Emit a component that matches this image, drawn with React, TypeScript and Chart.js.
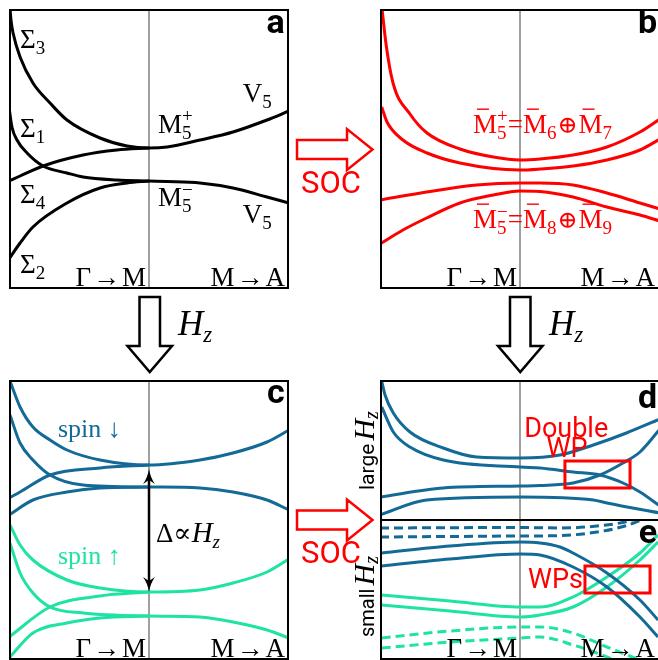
import React, { useEffect, useRef } from 'react';
import { Chart, registerables } from 'chart.js';

Chart.register(...registerables);

const BLACK = '#000000';
const RED = '#ff0000';
const BLUE = '#136a96';
const GREEN = '#1ee3a4';
const SERIF = "'Liberation Serif', 'DejaVu Serif', serif";
const SANS = "Roboto, 'Liberation Sans', sans-serif";

const pathLabels = ['Γ→M', 'M→A'];

// ---------- panel a (black bands, no SOC) ----------
const aSigma3X = [0.007, 0.014, 0.029, 0.079, 0.171, 0.293, 0.414, 0.65, 0.843, 1, 1.129, 1.364, 1.6, 1.843, 2];
const aSigma3Y = [281, 269, 256, 232, 206, 186, 169, 151, 143, 141, 142, 149, 157, 169, 178];
const aSigma1X = [0, 0.021, 0.057, 0.129, 0.243, 0.414, 0.529, 0.771, 1, 1.129, 1.364, 1.6, 1.843, 2];
const aSigma1Y = [182, 162, 149, 136, 123, 116, 112, 109, 108, 107.5, 106, 101, 92, 86];
const aSigma4X = [0, 0.079, 0.243, 0.529, 0.771, 1];
const aSigma4Y = [108, 113, 123, 134, 139, 141];
const aSigma2X = [0, 0.079, 0.171, 0.414, 0.65, 0.843, 1];
const aSigma2Y = [30, 46, 62, 86, 101, 106, 108];

// ---------- panel b (SOC, red) ----------
const b1X = [0.014, 0.043, 0.093, 0.214, 0.336, 0.571, 0.81, 1, 1.143, 1.379, 1.621, 1.857, 2];
const b1Y = [281, 245, 206, 175, 156, 140, 132, 129, 130, 134, 142, 157, 170];
const b2X = [0.012, 0.05, 0.164, 0.336, 0.571, 1, 1.143, 1.379, 1.621, 1.857, 2];
const b2Y = [182, 167, 149, 136, 126, 119, 120, 123, 129, 139, 150];
const b3X = [0, 0.333, 0.69, 1, 1.143, 1.379, 1.621, 1.857, 2];
const b3Y = [89, 97, 104, 106, 106, 104, 96, 86, 80];
const b4X = [0, 0.164, 0.333, 0.571, 0.81, 1, 1.143, 1.379, 1.621, 1.857, 2];
const b4Y = [45, 59, 71, 86, 94, 98, 97.5, 92, 82, 74, 68];

// ---------- panel c (Zeeman split) ----------
const cDn1X = [0.007, 0.079, 0.171, 0.293, 0.414, 0.65, 1, 1.364, 1.6, 1.843, 2];
const cDn1Y = [279, 253, 233, 220, 210, 200, 195, 200, 207, 218, 230];
const cDn2X = [0.007, 0.079, 0.171, 0.293, 0.529, 1, 1.364, 1.6, 1.843, 2];
const cDn2Y = [245, 217, 200, 185, 175, 173, 172, 168, 160, 150];
const cDn3X = [0, 0.079, 0.293, 0.65, 1];
const cDn3Y = [162, 168, 185, 192, 195];
const cDn4X = [0, 0.171, 0.414, 0.65, 1];
const cDn4Y = [145, 160, 168, 172, 173];
const cUp1X = [0.007, 0.079, 0.171, 0.414, 0.65, 1, 1.364, 1.6, 1.843, 2];
const cUp1Y = [135, 115, 100, 80, 72, 68, 70, 77, 88, 101];
const cUp2X = [0.007, 0.079, 0.171, 0.293, 0.529, 1, 1.364, 1.6, 1.843, 2];
const cUp2Y = [117, 87, 67, 53, 47, 44, 43, 38, 30, 22];
const cUp3X = [0, 0.293, 0.65, 1];
const cUp3Y = [23, 53, 64, 68];
const cUp4X = [0, 0.171, 0.414, 0.65, 1];
const cUp4Y = [2, 27, 37, 42, 44];

// ---------- panel d (large Hz) ----------
const d1X = [0.012, 0.036, 0.095, 0.214, 0.452, 0.69, 1.005, 1.286, 1.524, 1.76, 2];
const d1Y = [140, 126, 108, 89, 73, 64, 63, 66, 76, 88, 102];
const d2X = [0.012, 0.095, 0.214, 0.452, 1.005, 1.143, 1.379, 1.571, 1.736, 1.857, 2];
const d2Y = [114, 89, 74, 61, 54, 53, 49, 46, 38, 29, 15];
const d3X = [0, 0.452, 1.005, 1.143, 1.379, 1.571, 1.736, 1.857, 2];
const d3Y = [24, 33, 35, 35.5, 38, 46, 58, 69, 92];
const d4X = [0, 0.333, 1.005, 1.524, 1.621, 2];
const d4Y = [6, 21, 24, 21, 18, 8];

// ---------- panel e (small Hz) ----------
const eDash1X = [0, 1, 1.3, 1.55, 1.75, 1.9];
const eDash1Y = [132, 132.5, 132, 134, 138, 144];
const eDash2X = [0, 1, 1.3, 1.55, 1.75, 1.9];
const eDash2Y = [123, 124, 124.5, 128, 134, 142];
const eBlue1X = [0.012, 0.5, 1.005, 1.143, 1.286, 1.379, 1.621, 1.857, 1.986];
const eBlue1Y = [107, 114, 118, 117, 113, 107, 87, 60, 40];
const eBlue2X = [0.012, 0.5, 1.005, 1.143, 1.379, 1.621, 1.857, 1.986];
const eBlue2Y = [94, 101, 106, 105, 93, 73, 43, 23];
const eGreen1X = [0.012, 0.5, 1.005, 1.143, 1.379, 1.621, 1.857, 1.986];
const eGreen1Y = [65, 59, 53, 53, 63, 83, 107, 125];
const eGreen2X = [0.012, 0.5, 1.005, 1.143, 1.379, 1.621, 1.857, 1.986];
const eGreen2Y = [55, 49, 43, 45, 53, 73, 100, 118];
const eGDash1X = [0.012, 0.5, 1.005, 1.143, 1.379, 1.621, 1.857, 2];
const eGDash1Y = [22, 29, 33, 33, 27, 13, 0, -8];
const eGDash2X = [0.012, 0.5, 1.005, 1.143, 1.379, 1.621, 1.75];
const eGDash2Y = [12, 18, 22, 23, 15, 3, -6];

function curve(xs: number[], ys: number[], color: string, dashed = false): any {
  return {
    data: xs.map((x, i) => ({ x, y: ys[i] })),
    borderColor: color,
    borderWidth: 3,
    pointRadius: 0,
    fill: false,
    cubicInterpolationMode: 'monotone',
    borderDash: dashed ? [9, 5] : [],
    borderCapStyle: 'butt',
  };
}

function fontOf(p: any, lab: any, sizeOverride?: number) {
  const style = p.style ?? lab.style ?? '';
  const weight = p.weight ?? lab.weight ?? '';
  const size = sizeOverride ?? p.size ?? lab.size ?? 27;
  const fam = p.family ?? lab.family ?? SERIF;
  return `${style} ${weight} ${size}px ${fam}`;
}

function drawLabel(ctx: CanvasRenderingContext2D, chart: any, lab: any) {
  const x0 = chart.scales.x.getPixelForValue(lab.x);
  const y0 = chart.scales.y.getPixelForValue(lab.y);
  const widths = lab.parts.map((p: any) => {
    if (p.sub !== undefined || p.sup !== undefined) {
      ctx.font = fontOf(p, lab, p.size ?? 19);
      return Math.max(ctx.measureText(p.sub || '').width, ctx.measureText(p.sup || '').width);
    }
    ctx.font = fontOf(p, lab);
    return ctx.measureText(p.t).width + (p.gap || 0);
  });
  const total = widths.reduce((a: number, b: number) => a + b, 0);
  let x = lab.align === 'right' ? x0 - total : lab.align === 'center' ? x0 - total / 2 : x0;
  ctx.save();
  ctx.fillStyle = lab.color || BLACK;
  ctx.strokeStyle = lab.color || BLACK;
  ctx.textAlign = 'left';
  ctx.textBaseline = 'alphabetic';
  lab.parts.forEach((p: any, i: number) => {
    if (p.sub !== undefined || p.sup !== undefined) {
      ctx.font = fontOf(p, lab, p.size ?? 19);
      if (p.sub) ctx.fillText(p.sub, x, y0 + 6);
      if (p.sup) ctx.fillText(p.sup, x, y0 + (p.supDy ?? -11));
    } else {
      ctx.font = fontOf(p, lab);
      ctx.fillText(p.t, x + (p.gap || 0) / 2, y0 + (p.dy || 0));
      if (p.bar) {
        const s = p.size ?? lab.size ?? 27;
        ctx.lineWidth = 1.4;
        ctx.beginPath();
        ctx.moveTo(x + 4, y0 - s * 0.66 - 6);
        ctx.lineTo(x + 16, y0 - s * 0.66 - 6);
        ctx.stroke();
      }
    }
    x += widths[i];
  });
  ctx.restore();
}

const decorPlugin: any = {
  id: 'decor',
  beforeDatasetsDraw(chart: any, _args: any, opts: any) {
    const { ctx, chartArea, scales } = chart;
    if (opts.divider) {
      const x = scales.x.getPixelForValue(1);
      ctx.save();
      ctx.strokeStyle = '#808080';
      ctx.lineWidth = 1.5;
      ctx.beginPath();
      ctx.moveTo(x, chartArea.top);
      ctx.lineTo(x, chartArea.bottom);
      ctx.stroke();
      ctx.restore();
    }
  },
  afterDatasetsDraw(chart: any, _args: any, opts: any) {
    const { ctx, scales, width, height } = chart;
    (opts.boxes || []).forEach((b: any) => {
      const x1 = scales.x.getPixelForValue(b.x1);
      const x2 = scales.x.getPixelForValue(b.x2);
      const y1 = scales.y.getPixelForValue(b.y1);
      const y2 = scales.y.getPixelForValue(b.y2);
      ctx.save();
      ctx.strokeStyle = RED;
      ctx.lineWidth = 3;
      ctx.strokeRect(x1, y1, x2 - x1, y2 - y1);
      ctx.restore();
    });
    if (opts.vArrow) {
      const a = opts.vArrow;
      const x = scales.x.getPixelForValue(a.x);
      const yt = scales.y.getPixelForValue(a.y1);
      const yb = scales.y.getPixelForValue(a.y2);
      ctx.save();
      ctx.strokeStyle = BLACK;
      ctx.fillStyle = BLACK;
      ctx.lineWidth = 2.5;
      ctx.beginPath();
      ctx.moveTo(x, yt + 8);
      ctx.lineTo(x, yb - 8);
      ctx.stroke();
      const head = (tip: number, dir: number) => {
        ctx.beginPath();
        ctx.moveTo(x, tip);
        ctx.quadraticCurveTo(x + 1.5, tip + dir * 9, x + 6, tip + dir * 15);
        ctx.lineTo(x, tip + dir * 11);
        ctx.lineTo(x - 6, tip + dir * 15);
        ctx.quadraticCurveTo(x - 1.5, tip + dir * 9, x, tip);
        ctx.fill();
      };
      head(yt, 1);
      head(yb, -1);
      ctx.restore();
    }
    (opts.labels || []).forEach((lab: any) => drawLabel(ctx, chart, lab));
    ctx.save();
    ctx.strokeStyle = BLACK;
    ctx.lineWidth = 2;
    ctx.strokeRect(1, 1, width - 2, height - 2);
    ctx.restore();
  },
};

function makeConfig(datasets: any[], yMax: number, decor: any): any {
  return {
    type: 'line',
    data: { datasets },
    options: {
      animation: false,
      responsive: false,
      devicePixelRatio: 1,
      events: [],
      layout: { padding: 0, autoPadding: false },
      scales: {
        x: { type: 'linear', min: 0, max: 2, display: false },
        y: { type: 'linear', min: 0, max: yMax, display: false },
      },
      plugins: { legend: { display: false }, tooltip: { enabled: false }, decor },
    },
    plugins: [decorPlugin],
  };
}

const sub = (t: string) => ({ t, size: 19, dy: 6 });
const arrowParts = (s: string) => [{ t: s[0] }, { t: '→', gap: 4 }, { t: s[2] }];
const bottomLabels = (xr: number) => [
  { x: 0.979, y: 3, align: 'right', parts: arrowParts(pathLabels[0]) },
  { x: xr, y: 3, align: 'right', parts: arrowParts(pathLabels[1]) },
];
const panelLetter = (t: string, x: number, y: number) => ({
  x, y, align: 'right', family: SANS, weight: 'bold', size: 34, parts: [{ t }],
});

const configA = () =>
  makeConfig(
    [
      curve(aSigma3X, aSigma3Y, BLACK),
      curve(aSigma1X, aSigma1Y, BLACK),
      curve(aSigma4X, aSigma4Y, BLACK),
      curve(aSigma2X, aSigma2Y, BLACK),
    ],
    280,
    {
      divider: true,
      labels: [
        panelLetter('a', 1.97, 256),
        { x: 0.079, y: 241, parts: [{ t: 'Σ' }, sub('3')] },
        { x: 0.079, y: 152, parts: [{ t: 'Σ' }, sub('1')] },
        { x: 0.079, y: 86, parts: [{ t: 'Σ' }, sub('4')] },
        { x: 0.079, y: 16, parts: [{ t: 'Σ' }, sub('2')] },
        { x: 1.064, y: 156, parts: [{ t: 'M' }, { sub: '5', sup: '+' }] },
        { x: 1.064, y: 83, parts: [{ t: 'M' }, { sub: '5', sup: '−', supDy: -10 }] },
        { x: 1.67, y: 187, parts: [{ t: 'V' }, sub('5')] },
        { x: 1.67, y: 66, parts: [{ t: 'V' }, sub('5')] },
        ...bottomLabels(1.971),
      ],
    }
  );

const configB = () =>
  makeConfig(
    [curve(b1X, b1Y, RED), curve(b2X, b2Y, RED), curve(b3X, b3Y, RED), curve(b4X, b4Y, RED)],
    280,
    {
      divider: true,
      labels: [
        panelLetter('b', 1.979, 256),
        {
          x: 0.664, y: 156, color: RED,
          parts: [{ t: 'M', bar: true }, { sub: '5', sup: '+' }, { t: '=' }, { t: 'M', bar: true }, sub('6'), { t: '⊕', size: 24, gap: 2 }, { t: 'M', bar: true }, sub('7')],
        },
        {
          x: 0.664, y: 61, color: RED,
          parts: [{ t: 'M', bar: true }, { sub: '5', sup: '−', supDy: -10 }, { t: '=' }, { t: 'M', bar: true }, sub('8'), { t: '⊕', size: 24, gap: 2 }, { t: 'M', bar: true }, sub('9')],
        },
        ...bottomLabels(1.964),
      ],
    }
  );

const configC = () =>
  makeConfig(
    [
      curve(cDn1X, cDn1Y, BLUE),
      curve(cDn2X, cDn2Y, BLUE),
      curve(cDn3X, cDn3Y, BLUE),
      curve(cDn4X, cDn4Y, BLUE),
      curve(cUp1X, cUp1Y, GREEN),
      curve(cUp2X, cUp2Y, GREEN),
      curve(cUp3X, cUp3Y, GREEN),
      curve(cUp4X, cUp4Y, GREEN),
    ],
    280,
    {
      divider: true,
      vArrow: { x: 1, y1: 191, y2: 68 },
      labels: [
        panelLetter('c', 1.97, 257),
        { x: 0.35, y: 223, size: 26, color: BLUE, parts: [{ t: 'spin ↓' }] },
        { x: 0.35, y: 96, size: 26, color: GREEN, parts: [{ t: 'spin ↑' }] },
        { x: 1.05, y: 118, parts: [{ t: 'Δ∝' }, { t: 'H', style: 'italic', size: 29 }, { t: 'z', style: 'italic', size: 19, dy: 6 }] },
        ...bottomLabels(1.971),
      ],
    }
  );

const configD = () =>
  makeConfig(
    [curve(d1X, d1Y, BLUE), curve(d2X, d2Y, BLUE), curve(d3X, d3Y, BLUE), curve(d4X, d4Y, BLUE)],
    141,
    {
      divider: true,
      boxes: [{ x1: 1.321, x2: 1.786, y1: 60, y2: 33 }],
      labels: [
        panelLetter('d', 1.979, 113),
        { x: 1.33, y: 84, align: 'center', family: SANS, size: 27, color: RED, parts: [{ t: 'Double' }] },
        { x: 1.336, y: 64, align: 'center', family: SANS, size: 27, color: RED, parts: [{ t: 'WP' }] },
      ],
    }
  );

const configE = () =>
  makeConfig(
    [
      curve(eDash1X, eDash1Y, BLUE, true),
      curve(eDash2X, eDash2Y, BLUE, true),
      curve(eBlue1X, eBlue1Y, BLUE),
      curve(eBlue2X, eBlue2Y, BLUE),
      curve(eGreen1X, eGreen1Y, GREEN),
      curve(eGreen2X, eGreen2Y, GREEN),
      curve(eGDash1X, eGDash1Y, GREEN, true),
      curve(eGDash2X, eGDash2Y, GREEN, true),
    ],
    141,
    {
      divider: true,
      boxes: [{ x1: 1.464, x2: 1.929, y1: 94, y2: 67 }],
      labels: [
        panelLetter('e', 1.979, 117),
        { x: 1.057, y: 72, family: SANS, size: 27, color: RED, parts: [{ t: 'WPs' }] },
        ...bottomLabels(1.964),
      ],
    }
  );

function Panel(props: { left: number; top: number; width: number; height: number; make: () => any }) {
  const ref = useRef<HTMLCanvasElement>(null);
  useEffect(() => {
    const chart = new Chart(ref.current as HTMLCanvasElement, props.make());
    return () => chart.destroy();
  }, []);
  return (
    <canvas
      ref={ref}
      width={props.width}
      height={props.height}
      style={{ position: 'absolute', left: props.left, top: props.top, width: props.width, height: props.height }}
    />
  );
}

function Overlay() {
  const rightArrow = (dy: number) =>
    `297,${140 + dy} 347,${140 + dy} 347,${129 + dy} 372.5,${149.5 + dy} 347,${170 + dy} 347,${159 + dy} 297,${159 + dy}`;
  const downArrow = (dx: number) =>
    `${139.5 + dx},297 ${160 + dx},297 ${160 + dx},346 ${172 + dx},346 ${149.75 + dx},372 ${127.5 + dx},346 ${139.5 + dx},346`;
  return (
    <svg width={658} height={660} style={{ position: 'absolute', left: 0, top: 0, pointerEvents: 'none' }}>
      <polygon points={rightArrow(0)} fill="none" stroke={RED} strokeWidth={2.5} strokeLinejoin="miter" />
      <polygon points={rightArrow(370.5)} fill="none" stroke={RED} strokeWidth={2.5} strokeLinejoin="miter" />
      <text x={331} y={193} textAnchor="middle" fontFamily={SANS} fontSize={31} fill={RED}>SOC</text>
      <text x={331} y={563} textAnchor="middle" fontFamily={SANS} fontSize={31} fill={RED}>SOC</text>
      <polygon points={downArrow(0)} fill="none" stroke={BLACK} strokeWidth={2.5} />
      <polygon points={downArrow(370.5)} fill="none" stroke={BLACK} strokeWidth={2.5} />
      <text x={178} y={335} fontFamily={SERIF} fontStyle="italic" fontSize={35} fill={BLACK}>
        H<tspan fontSize={23} dy={7}>z</tspan>
      </text>
      <text x={549} y={335} fontFamily={SERIF} fontStyle="italic" fontSize={35} fill={BLACK}>
        H<tspan fontSize={23} dy={7}>z</tspan>
      </text>
      <text transform="translate(374,490) rotate(-90)" fontFamily={SANS} fontSize={21} fill={BLACK}>
        large<tspan fontFamily={SERIF} fontStyle="italic" fontSize={30} dx={3}>H</tspan>
        <tspan fontFamily={SERIF} fontStyle="italic" fontSize={20} dy={4}>z</tspan>
      </text>
      <text transform="translate(374,637) rotate(-90)" fontFamily={SANS} fontSize={20} fill={BLACK}>
        small<tspan fontFamily={SERIF} fontStyle="italic" fontSize={30} dx={3}>H</tspan>
        <tspan fontFamily={SERIF} fontStyle="italic" fontSize={20} dy={4}>z</tspan>
      </text>
    </svg>
  );
}

export default function App() {
  return (
    <div style={{ position: 'fixed', left: 0, top: 0, width: 658, height: 660, overflow: 'hidden', background: '#ffffff' }}>
      <Panel left={9} top={9} width={280} height={280} make={configA} />
      <Panel left={380} top={9} width={280} height={280} make={configB} />
      <Panel left={9} top={380} width={280} height={280} make={configC} />
      <Panel left={380} top={380} width={280} height={141} make={configD} />
      <Panel left={380} top={519} width={280} height={141} make={configE} />
      <Overlay />
    </div>
  );
}
